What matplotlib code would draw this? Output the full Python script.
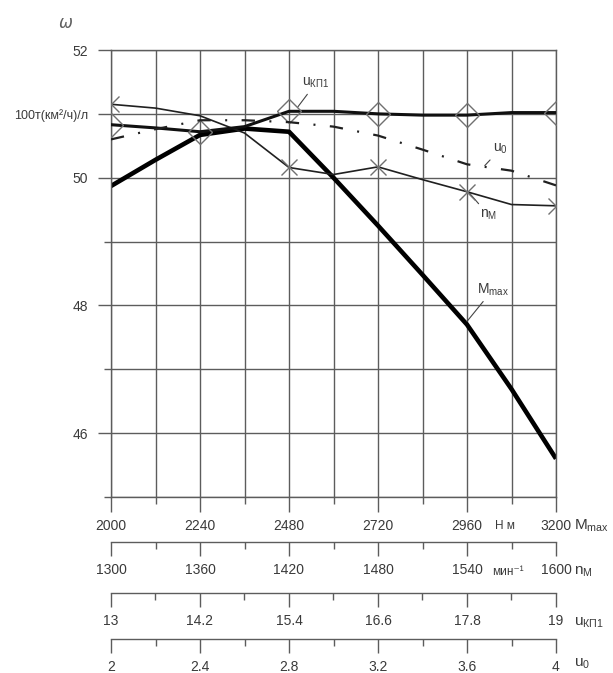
import numpy as np
import matplotlib.pyplot as plt

plt.rcParams['font.family'] = ['Liberation Sans', 'DejaVu Sans']
plt.rcParams['mathtext.fontset'] = 'custom'
plt.rcParams['mathtext.rm'] = 'Liberation Sans'

# scales of the four parameters (bottom axes)
m_max = [2000, 2120, 2240, 2360, 2480, 2600, 2720, 2840, 2960, 3080, 3200]   # Н м
n_m = [1300, 1330, 1360, 1390, 1420, 1450, 1480, 1510, 1540, 1570, 1600]      # мин-1
u_kp1 = [13, 13.6, 14.2, 14.8, 15.4, 16.0, 16.6, 17.2, 17.8, 18.4, 19]
u_0 = [2, 2.2, 2.4, 2.6, 2.8, 3.0, 3.2, 3.4, 3.6, 3.8, 4]

# omega, 100 t(km2/h)/l
w_mmax = [49.87, 50.28, 50.67, 50.77, 50.72, 50.0, 49.25, 48.48, 47.7, 46.69, 45.6]
w_nm = [51.15, 51.09, 50.97, 50.7, 50.16, 50.05, 50.17, 49.97, 49.78, 49.58, 49.56]
w_ukp1 = [50.83, 50.78, 50.72, 50.8, 51.04, 51.04, 51.0, 50.98, 50.98, 51.02, 51.02]
w_u0 = [50.6, 50.76, 50.9, 50.9, 50.87, 50.8, 50.66, 50.44, 50.21, 50.11, 49.88]

y_major = [46, 48, 50, 51, 52]
y_major_lbl = ['46', '48', '50', '100т(км²/ч)/л', '52']
y_minor = [45, 47, 49]

W, H = 613, 673
grid_c = '#5c5c5c'
txt_c = '#3a3a3a'

fig = plt.figure(figsize=(W / 100, H / 100), dpi=100)
left, right, top, bot = 111, 556, 50, 497
ax = fig.add_axes([left / W, 1 - bot / H, (right - left) / W, (bot - top) / H])
ax.set_xlim(2000, 3200)
ax.set_ylim(45, 52)

ax.set_xticks(m_max[::2])
ax.set_xticks(m_max[1::2], minor=True)
ax.set_xticklabels([str(v) for v in m_max[::2]])
ax.set_yticks(y_major)
ax.set_yticklabels(y_major_lbl)
ax.set_yticks(y_minor, minor=True)
ax.grid(which='both', color=grid_c, lw=1.0)
for s in ax.spines.values():
    s.set_color(grid_c)
    s.set_linewidth(1.0)
ax.tick_params(axis='x', which='major', length=10.5, width=1.0, color=grid_c,
               labelsize=10, labelcolor=txt_c, pad=5)
ax.tick_params(axis='x', which='minor', length=5, width=1.0, color=grid_c)
ax.tick_params(axis='y', which='major', length=9.5, width=1.0, color=grid_c,
               labelsize=10, labelcolor=txt_c, pad=7)
ax.tick_params(axis='y', which='minor', length=5, width=1.0, color=grid_c)
ax.get_yticklabels()[3].set_fontsize(9)


def twin(lim):
    t = ax.twiny()
    t.set_xlim(*lim)
    t.set_ylim(45, 52)
    t.axis('off')
    return t


ax.plot(m_max, w_mmax, color='black', lw=3.3, solid_capstyle='butt')

t_n = twin((1300, 1600))
t_n.plot(n_m, w_nm, color='#202020', lw=1.2, marker='x', markersize=11,
         mew=1.0, mec='#707070', markevery=[0, 4, 6, 8, 10])

t_k = twin((13, 19))
t_k.plot(u_kp1, w_ukp1, color='#101010', lw=2.2, marker='D', markersize=12,
         mfc='none', mec='#707070', mew=1.0, markevery=[0, 2, 4, 6, 8, 10])

t_u = twin((2, 4))
t_u.plot(u_0, w_u0, color='#202020', lw=1.6, dashes=(6.0, 6.5, 0.9, 6.5))

# curve labels
lead = dict(arrowstyle='-', color='#444444', lw=0.8, shrinkA=1, shrinkB=0)
ax.annotate(r'$\mathregular{u_{КП1}}$', xy=(2504, 51.11), xytext=(2552, 51.48),
            ha='center', va='center', fontsize=10, color=txt_c, arrowprops=lead)
ax.annotate(r'$\mathregular{u_0}$', xy=(3008, 50.19), xytext=(3050, 50.45),
            ha='center', va='center', fontsize=10, color=txt_c, arrowprops=lead)
ax.annotate(r'$\mathregular{n_M}$', xy=(2965, 49.77), xytext=(3017, 49.42),
            ha='center', va='center', fontsize=10, color=txt_c, arrowprops=lead)
ax.annotate(r'$\mathregular{M_{max}}$', xy=(2960, 47.75), xytext=(3030, 48.25),
            ha='center', va='center', fontsize=10, color=txt_c, arrowprops=lead)

fig.text(66 / W, 1 - 23 / H, 'ω', fontsize=12, style='italic', color='#606060',
         ha='center', va='center', family='DejaVu Sans')

# additional scales under the chart
scales = [
    (542, (1300, 1600), n_m),
    (593, (13, 19), u_kp1),
    (639, (2, 4), u_0),
]
for ypix, lim, vals in scales:
    a = fig.add_axes([left / W, 1 - ypix / H, (right - left) / W, 0.0001])
    a.set_xlim(*lim)
    a.set_yticks([])
    for k in ('top', 'left', 'right'):
        a.spines[k].set_visible(False)
    a.spines['bottom'].set_color(grid_c)
    a.spines['bottom'].set_linewidth(1.0)
    a.set_xticks(vals[::2])
    a.set_xticks(vals[1::2], minor=True)
    a.set_xticklabels([f'{v:g}' for v in vals[::2]])
    a.tick_params(axis='x', which='major', length=10, width=1.0, color=grid_c,
                  labelsize=10, labelcolor=txt_c, pad=5)
    a.tick_params(axis='x', which='minor', length=5, width=1.0, color=grid_c)
    a.patch.set_visible(False)

# units and scale names
fig.text(505 / W, 1 - 526 / H, 'Н м', fontsize=8.5, color=txt_c, ha='center', va='center')
fig.text(508 / W, 1 - 572 / H, 'мин⁻¹', fontsize=8.5, color=txt_c, ha='center', va='center')
names = [(526, r'$\mathregular{M_{max}}$'), (572, r'$\mathregular{n_M}$'),
         (623, r'$\mathregular{u_{КП1}}$'), (664, r'$\mathregular{u_0}$')]
for ypix, name in names:
    fig.text(574 / W, 1 - ypix / H, name, fontsize=11, color=txt_c, ha='left', va='center')

fig.savefig('out.png', dpi=100)
